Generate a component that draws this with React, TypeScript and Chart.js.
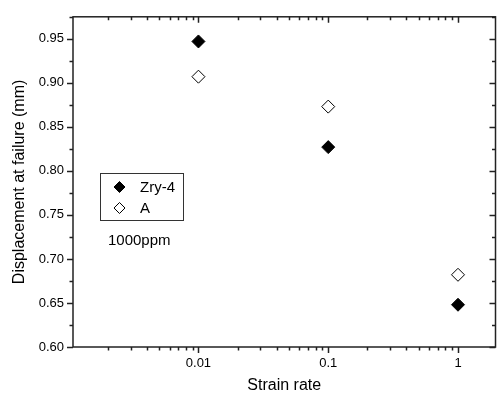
import React, { useEffect, useRef } from 'react';
import { Chart, registerables } from 'chart.js';

Chart.register(...registerables);

const strainRates = [0.01, 0.1, 1];
const zry4Values = [0.947, 0.827, 0.648];
const aValues = [0.907, 0.873, 0.682];

const xTickValues = [0.01, 0.1, 1];
const xTickLabels = ['0.01', '0.1', '1'];
const yTickValues = [0.6, 0.65, 0.7, 0.75, 0.8, 0.85, 0.9, 0.95];
const yTickLabels = ['0.60', '0.65', '0.70', '0.75', '0.80', '0.85', '0.90', '0.95'];

const seriesNames = ['Zry-4', 'A'];
const noteText = '1000ppm';
const xTitle = 'Strain rate';
const yTitle = 'Displacement at failure (mm)';

const FONT = '"Liberation Sans", Arial, sans-serif';
const AXIS = '#222';

function diamond(ctx: CanvasRenderingContext2D, x: number, y: number, r: number, filled: boolean) {
  ctx.beginPath();
  ctx.moveTo(x, y - r);
  ctx.lineTo(x + r, y);
  ctx.lineTo(x, y + r);
  ctx.lineTo(x - r, y);
  ctx.closePath();
  ctx.fillStyle = filled ? '#000' : '#fff';
  ctx.fill();
  ctx.strokeStyle = '#000';
  ctx.lineWidth = 1;
  ctx.stroke();
}

const framePlugin = {
  id: 'framePlugin',
  afterDraw(chart: any) {
    const { ctx, chartArea } = chart;
    const { left, right, top, bottom } = chartArea;
    const xs = chart.scales.x;
    const ys = chart.scales.y;
    ctx.save();
    ctx.strokeStyle = AXIS;
    ctx.lineWidth = 1.5;
    ctx.strokeRect(left, top, right - left, bottom - top);

    // x ticks (log, major + minor)
    ctx.beginPath();
    for (let e = -4; e <= 1; e++) {
      for (let m = 1; m <= 9; m++) {
        const v = m * Math.pow(10, e);
        if (v < xs.min || v > xs.max) continue;
        const px = Math.round(xs.getPixelForValue(v)) + 0.5;
        const len = m === 1 ? 6 : 3.5;
        ctx.moveTo(px, bottom);
        ctx.lineTo(px, bottom + len);
        ctx.moveTo(px, top);
        ctx.lineTo(px, top + len);
      }
    }
    // y ticks
    const yt: { v: number; major: boolean }[] = [];
    for (let i = 0; i < yTickValues.length; i++) {
      yt.push({ v: yTickValues[i], major: true });
      const next = i + 1 < yTickValues.length ? yTickValues[i + 1] : yTickValues[i] + (yTickValues[1] - yTickValues[0]);
      const mid = (yTickValues[i] + next) / 2;
      if (mid <= ys.max + 1e-9) yt.push({ v: mid, major: false });
    }
    for (const t of yt) {
      const py = Math.round(ys.getPixelForValue(t.v)) + 0.5;
      const len = t.major ? 6 : 3.5;
      ctx.moveTo(left, py);
      ctx.lineTo(left - len, py);
      ctx.moveTo(right, py);
      ctx.lineTo(right - len, py);
    }
    ctx.stroke();

    // legend box
    ctx.lineWidth = 1;
    ctx.strokeStyle = '#333';
    ctx.strokeRect(100.5, 173.5, 83, 47);
    diamond(ctx, 119.5, 187, 5.5, true);
    diamond(ctx, 119.5, 208, 5.5, false);
    ctx.fillStyle = '#000';
    ctx.font = `15px ${FONT}`;
    ctx.textBaseline = 'middle';
    ctx.textAlign = 'left';
    ctx.fillText(seriesNames[0], 140, 187.5);
    ctx.fillText(seriesNames[1], 140, 208.5);
    ctx.fillText(noteText, 108, 241);
    ctx.restore();
  },
};

export default function App() {
  const ref = useRef<HTMLCanvasElement | null>(null);

  useEffect(() => {
    if (!ref.current) return;
    const chart = new Chart(ref.current, {
      type: 'scatter',
      data: {
        datasets: [
          {
            label: seriesNames[0],
            data: strainRates.map((x, i) => ({ x, y: zry4Values[i] })),
            pointStyle: 'rectRot',
            pointRadius: 6.5,
            backgroundColor: '#000',
            borderColor: '#000',
            borderWidth: 1,
          },
          {
            label: seriesNames[1],
            data: strainRates.map((x, i) => ({ x, y: aValues[i] })),
            pointStyle: 'rectRot',
            pointRadius: 6.5,
            backgroundColor: '#fff',
            borderColor: '#000',
            borderWidth: 1,
          },
        ],
      },
      options: {
        responsive: false,
        animation: false,
        layout: { padding: { top: 7, right: 2, left: 0, bottom: 0 } },
        plugins: { legend: { display: false }, tooltip: { enabled: false } },
        scales: {
          x: {
            type: 'logarithmic',
            min: 0.00108,
            max: 1.945,
            grid: { display: false, drawTicks: false },
            border: { display: false },
            afterBuildTicks: (scale: any) => {
              scale.ticks = xTickValues.map((v) => ({ value: v }));
            },
            afterFit: (scale: any) => {
              scale.height = 54;
            },
            ticks: {
              autoSkip: false,
              maxRotation: 0,
              padding: 9,
              color: '#000',
              font: { family: FONT, size: 13 },
              callback: (v: any) => {
                const i = xTickValues.findIndex((t) => Math.abs(t - v) < 1e-9);
                return i >= 0 ? xTickLabels[i] : '';
              },
            },
            title: {
              display: true,
              text: xTitle,
              color: '#000',
              font: { family: FONT, size: 16 },
              padding: { top: 0, bottom: 6 },
            },
          },
          y: {
            type: 'linear',
            min: 0.6,
            max: 0.975,
            grid: { display: false, drawTicks: false },
            border: { display: false },
            afterBuildTicks: (scale: any) => {
              scale.ticks = yTickValues.map((v) => ({ value: v }));
            },
            afterFit: (scale: any) => {
              scale.width = 73;
            },
            ticks: {
              autoSkip: false,
              padding: 9,
              color: '#000',
              font: { family: FONT, size: 13 },
              callback: (v: any) => {
                const i = yTickValues.findIndex((t) => Math.abs(t - v) < 1e-9);
                return i >= 0 ? yTickLabels[i] : '';
              },
            },
            title: {
              display: true,
              text: yTitle,
              color: '#000',
              font: { family: FONT, size: 16 },
              padding: { top: 10, bottom: 0 },
            },
          },
        },
      },
      plugins: [framePlugin],
    });
    return () => chart.destroy();
  }, []);

  return (
    <div style={{ position: 'absolute', left: 0, top: 0, width: 503, height: 401, background: '#fff' }}>
      <canvas ref={ref} width={503} height={401} style={{ display: 'block' }} />
    </div>
  );
}
